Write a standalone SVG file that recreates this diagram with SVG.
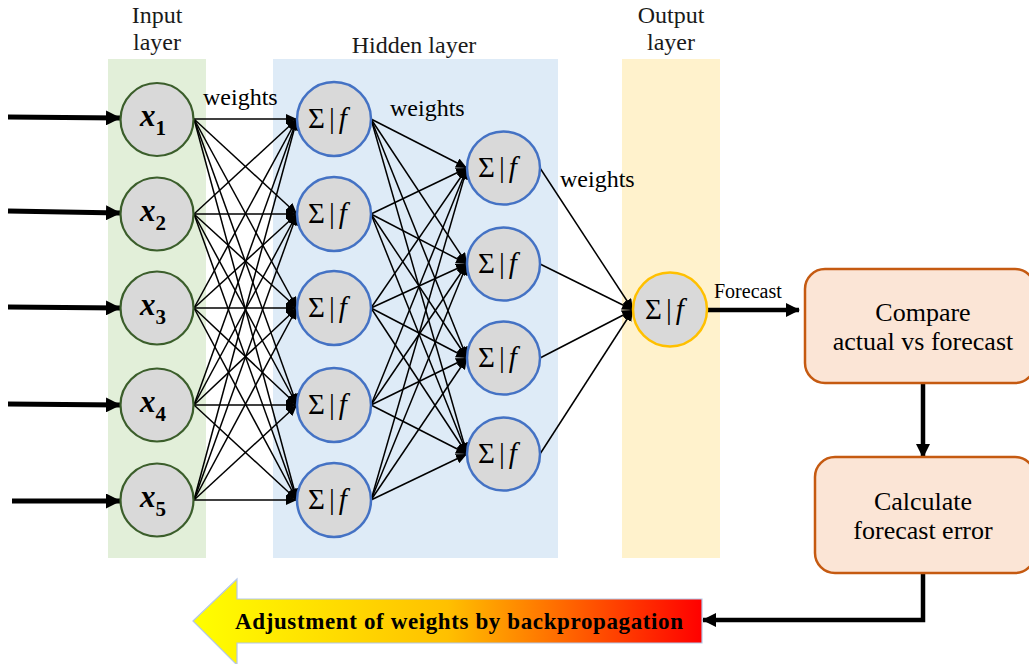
<svg xmlns="http://www.w3.org/2000/svg" width="1029" height="664" viewBox="0 0 1029 664">
<style>
.lbl{font-family:"Liberation Serif","Times New Roman",serif;font-size:24px;fill:#1a1a1a;text-anchor:middle}
.w{font-family:"Liberation Serif","Times New Roman",serif;font-size:24px;fill:#000}
.in{fill:#d9d9d9;stroke:#3b5e2b;stroke-width:2.2}
.hid{fill:#d9d9d9;stroke:#4472c4;stroke-width:2.5}
.out{fill:#d9d9d9;stroke:#ffc000;stroke-width:2.5}
.xt{font-family:"Liberation Serif","DejaVu Serif",serif;font-weight:bold;text-anchor:middle;fill:#000}
.sf{font-family:"Liberation Serif","Times New Roman",serif;font-size:29px;fill:#000}
.c{stroke:#000;stroke-width:1.5;fill:none;marker-end:url(#ah)}
.thick{stroke:#000;stroke-width:4.5;fill:none;marker-end:url(#ahb)}
.inarr{stroke:#000;stroke-width:5;fill:none;marker-end:url(#ahi)}
.box{fill:#fbe5d6;stroke:#c55a11;stroke-width:2.5}
.bt{font-family:"Liberation Serif","Times New Roman",serif;font-size:26px;text-anchor:middle;fill:#000}
</style>
<defs>
<marker id="ah" markerUnits="userSpaceOnUse" markerWidth="11" markerHeight="10" refX="11" refY="5" orient="auto">
<path d="M0,0 L11,5 L0,10 z" fill="#000"/>
</marker>
<marker id="ahb" markerUnits="userSpaceOnUse" markerWidth="14" markerHeight="14" refX="13" refY="7" orient="auto">
<path d="M0,0 L14,7 L0,14 z" fill="#000"/>
</marker>
<marker id="ahi" markerUnits="userSpaceOnUse" markerWidth="15" markerHeight="15" refX="14" refY="7.5" orient="auto">
<path d="M0,0 L15,7.5 L0,15 z" fill="#000"/>
</marker>
<linearGradient id="grad" x1="0" y1="0" x2="1" y2="0">
<stop offset="0" stop-color="#ffff00"/>
<stop offset="0.5" stop-color="#ffc000"/>
<stop offset="1" stop-color="#ff0000"/>
</linearGradient>
</defs>
<rect width="1029" height="664" fill="#fff"/>
<g id="bands">
<rect x="108" y="59" width="98" height="499" fill="#e2efd9"/>
<rect x="273" y="59" width="285" height="499" fill="#deebf7"/>
<rect x="622" y="59" width="98" height="499" fill="#fff2cc"/>
</g>
<g id="labels">
<text class="lbl" x="157" y="23">Input</text>
<text class="lbl" x="157" y="50">layer</text>
<text class="lbl" x="414" y="53">Hidden layer</text>
<text class="lbl" x="671" y="23">Output</text>
<text class="lbl" x="671" y="50">layer</text>
<text class="w" x="203" y="105">weights</text>
<text class="w" x="390" y="116">weights</text>
<text class="w" x="560" y="187">weights</text>
<text x="714" y="298" font-family="Liberation Serif,serif" font-size="20" fill="#000">Forecast</text>
</g>
<g id="connectors">
<line class="inarr" x1="8" y1="117" x2="120" y2="118"/>
<line class="inarr" x1="8" y1="211" x2="120" y2="213"/>
<line class="inarr" x1="8" y1="307" x2="120" y2="308"/>
<line class="inarr" x1="8" y1="404" x2="120" y2="405"/>
<line class="inarr" x1="12" y1="501" x2="120" y2="501"/>
<line class="c" x1="194" y1="119" x2="297" y2="119"/><line class="c" x1="194" y1="119" x2="297" y2="214"/><line class="c" x1="194" y1="119" x2="297" y2="308"/><line class="c" x1="194" y1="119" x2="297" y2="405"/><line class="c" x1="194" y1="119" x2="297" y2="500"/>
<line class="c" x1="194" y1="214" x2="297" y2="119"/><line class="c" x1="194" y1="214" x2="297" y2="214"/><line class="c" x1="194" y1="214" x2="297" y2="308"/><line class="c" x1="194" y1="214" x2="297" y2="405"/><line class="c" x1="194" y1="214" x2="297" y2="500"/>
<line class="c" x1="194" y1="308" x2="297" y2="119"/><line class="c" x1="194" y1="308" x2="297" y2="214"/><line class="c" x1="194" y1="308" x2="297" y2="308"/><line class="c" x1="194" y1="308" x2="297" y2="405"/><line class="c" x1="194" y1="308" x2="297" y2="500"/>
<line class="c" x1="194" y1="405" x2="297" y2="119"/><line class="c" x1="194" y1="405" x2="297" y2="214"/><line class="c" x1="194" y1="405" x2="297" y2="308"/><line class="c" x1="194" y1="405" x2="297" y2="405"/><line class="c" x1="194" y1="405" x2="297" y2="500"/>
<line class="c" x1="194" y1="500" x2="297" y2="119"/><line class="c" x1="194" y1="500" x2="297" y2="214"/><line class="c" x1="194" y1="500" x2="297" y2="308"/><line class="c" x1="194" y1="500" x2="297" y2="405"/><line class="c" x1="194" y1="500" x2="297" y2="500"/>
<line class="c" x1="371" y1="119" x2="467" y2="168"/><line class="c" x1="371" y1="119" x2="467" y2="264"/><line class="c" x1="371" y1="119" x2="467" y2="358"/><line class="c" x1="371" y1="119" x2="467" y2="454"/>
<line class="c" x1="371" y1="214" x2="467" y2="168"/><line class="c" x1="371" y1="214" x2="467" y2="264"/><line class="c" x1="371" y1="214" x2="467" y2="358"/><line class="c" x1="371" y1="214" x2="467" y2="454"/>
<line class="c" x1="371" y1="308" x2="467" y2="168"/><line class="c" x1="371" y1="308" x2="467" y2="264"/><line class="c" x1="371" y1="308" x2="467" y2="358"/><line class="c" x1="371" y1="308" x2="467" y2="454"/>
<line class="c" x1="371" y1="405" x2="467" y2="168"/><line class="c" x1="371" y1="405" x2="467" y2="264"/><line class="c" x1="371" y1="405" x2="467" y2="358"/><line class="c" x1="371" y1="405" x2="467" y2="454"/>
<line class="c" x1="371" y1="500" x2="467" y2="168"/><line class="c" x1="371" y1="500" x2="467" y2="264"/><line class="c" x1="371" y1="500" x2="467" y2="358"/><line class="c" x1="371" y1="500" x2="467" y2="454"/>
<line class="c" x1="540" y1="168" x2="633" y2="310"/><line class="c" x1="540" y1="264" x2="633" y2="310"/><line class="c" x1="540" y1="358" x2="633" y2="310"/><line class="c" x1="540" y1="454" x2="633" y2="310"/>
<line class="thick" x1="707" y1="310" x2="799" y2="310"/>
<line class="thick" x1="923" y1="383" x2="923" y2="457"/>
<polyline class="thick" points="923,573 923,620 703,620"/>
</g>
<g id="input-nodes">
<g id="x1"><circle class="in" cx="157" cy="119.5" r="36.5"/><text class="xt" x="153" y="126"><tspan font-style="italic" font-size="31">x</tspan><tspan font-size="21" dy="9">1</tspan></text></g>
<g id="x2"><circle class="in" cx="157" cy="214" r="36.5"/><text class="xt" x="153" y="220.5"><tspan font-style="italic" font-size="31">x</tspan><tspan font-size="21" dy="9">2</tspan></text></g>
<g id="x3"><circle class="in" cx="157" cy="308" r="36.5"/><text class="xt" x="153" y="314.5"><tspan font-style="italic" font-size="31">x</tspan><tspan font-size="21" dy="9">3</tspan></text></g>
<g id="x4"><circle class="in" cx="157" cy="405" r="36.5"/><text class="xt" x="153" y="411.5"><tspan font-style="italic" font-size="31">x</tspan><tspan font-size="21" dy="9">4</tspan></text></g>
<g id="x5"><circle class="in" cx="157" cy="500" r="36.5"/><text class="xt" x="153" y="506.5"><tspan font-style="italic" font-size="31">x</tspan><tspan font-size="21" dy="9">5</tspan></text></g>
</g>
<g id="hidden-layer-1">
<g id="h1a"><circle class="hid" cx="334" cy="119" r="37"/><text class="sf" x="308" y="128">Σ<tspan dx="4">|</tspan><tspan dx="4" font-style="italic">f</tspan></text></g>
<g id="h1b"><circle class="hid" cx="334" cy="214" r="37"/><text class="sf" x="308" y="223">Σ<tspan dx="4">|</tspan><tspan dx="4" font-style="italic">f</tspan></text></g>
<g id="h1c"><circle class="hid" cx="334" cy="308" r="37"/><text class="sf" x="308" y="317">Σ<tspan dx="4">|</tspan><tspan dx="4" font-style="italic">f</tspan></text></g>
<g id="h1d"><circle class="hid" cx="334" cy="405" r="37"/><text class="sf" x="308" y="414">Σ<tspan dx="4">|</tspan><tspan dx="4" font-style="italic">f</tspan></text></g>
<g id="h1e"><circle class="hid" cx="334" cy="500" r="37"/><text class="sf" x="308" y="509">Σ<tspan dx="4">|</tspan><tspan dx="4" font-style="italic">f</tspan></text></g>
</g>
<g id="hidden-layer-2">
<g id="h2a"><circle class="hid" cx="503.5" cy="168" r="36.5"/><text class="sf" x="478" y="177">Σ<tspan dx="4">|</tspan><tspan dx="4" font-style="italic">f</tspan></text></g>
<g id="h2b"><circle class="hid" cx="503.5" cy="264" r="36.5"/><text class="sf" x="478" y="273">Σ<tspan dx="4">|</tspan><tspan dx="4" font-style="italic">f</tspan></text></g>
<g id="h2c"><circle class="hid" cx="503.5" cy="358" r="36.5"/><text class="sf" x="478" y="367">Σ<tspan dx="4">|</tspan><tspan dx="4" font-style="italic">f</tspan></text></g>
<g id="h2d"><circle class="hid" cx="503.5" cy="454" r="36.5"/><text class="sf" x="478" y="463">Σ<tspan dx="4">|</tspan><tspan dx="4" font-style="italic">f</tspan></text></g>
</g>
<g id="output-node"><circle class="out" cx="670" cy="309.5" r="37"/><text class="sf" x="645" y="319">Σ<tspan dx="4">|</tspan><tspan dx="4" font-style="italic">f</tspan></text></g>
<g id="compare"><rect class="box" x="805" y="269" width="230" height="114" rx="20"/><text class="bt" x="923" y="321">Compare</text><text class="bt" x="923" y="350">actual vs forecast</text></g>
<g id="calculate"><rect class="box" x="815" y="457" width="220" height="116" rx="20"/><text class="bt" x="923" y="510">Calculate</text><text class="bt" x="923" y="539">forecast error</text></g>
<g id="backprop">
<path d="M193,621 L237,579 L237,599 L702,599 L702,643 L237,643 L237,665 Z" fill="url(#grad)" stroke="#b4c7e7" stroke-width="1.2"/>
<text x="459" y="629" font-family="Liberation Serif,serif" font-weight="bold" font-size="23" text-anchor="middle" textLength="448" fill="#000">Adjustment of weights by backpropagation</text>
</g>
</svg>
